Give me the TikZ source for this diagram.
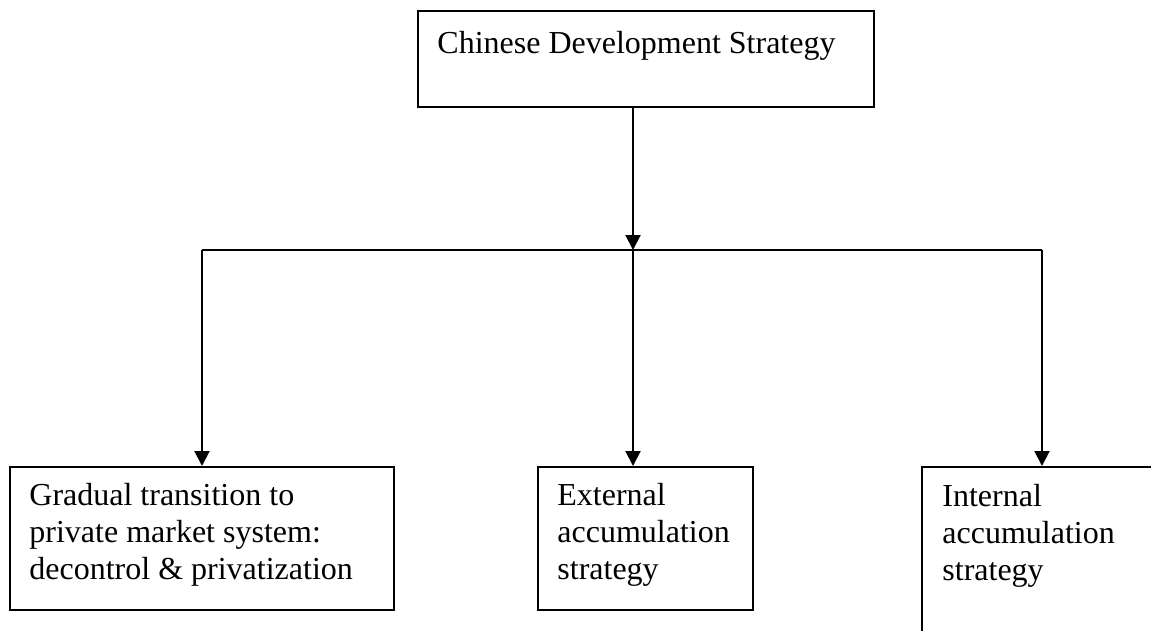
\documentclass[tikz,border=0pt]{standalone}
\usepackage{fontspec}
\setmainfont{Liberation Serif}
\usetikzlibrary{arrows.meta, positioning, calc}

\begin{document}
\begin{tikzpicture}[x=0.5pt, y=-0.5pt,
    box/.style={draw, line width=1pt, inner sep=0pt, anchor=north west},
    boxtext/.style={inner sep=0pt, anchor=north west, align=left,
      font=\fontsize{16}{18.4}\selectfont},
    link/.style={line width=1pt},
    arrowlink/.style={line width=1pt, -{Triangle[length=7.5pt, width=7.5pt]}}]
    \useasboundingbox (0,0) rectangle (1151,631);
    \clip (0,0) rectangle (1151,631);

    % Top node
    \node[box, minimum width=228pt, minimum height=48pt] (strategy) at (417,10) {};
    \node[boxtext] (strategytext) at ($(strategy.north west)+(20,21)$)
      {Chinese Development Strategy};

    % Lower nodes
    \node[box, minimum width=192pt, minimum height=71.5pt] (gradual) at (9,466) {};
    \node[boxtext] (gradualtext) at ($(gradual.north west)+(20,17)$)
      {Gradual transition to\\private market system:\\decontrol \& privatization};

    \node[box, minimum width=107.5pt, minimum height=71.5pt] (external) at (537,466) {};
    \node[boxtext] (externaltext) at ($(external.north west)+(20,17)$)
      {External\\accumulation\\strategy};

    \node[box, minimum width=120pt, minimum height=97pt] (internal) at (921,466) {};
    \node[boxtext] (internaltext) at ($(internal.north west)+(21,18)$)
      {Internal\\accumulation\\strategy};

    % Fork point
    \coordinate (fork) at (633,250);

    % Arrow down to the fork
    \draw[arrowlink] (strategy.south -| fork) -- (fork);

    % Horizontal bar
    \draw[link] (gradual.north |- fork) -- (internal.north |- fork);

    % Arrows to the lower nodes
    \draw[arrowlink] (gradual.north |- fork) -- (gradual.north);
    \draw[arrowlink] (fork) -- (fork |- external.north);
    \draw[arrowlink] (internal.north |- fork) -- (internal.north);
\end{tikzpicture}
\end{document}
